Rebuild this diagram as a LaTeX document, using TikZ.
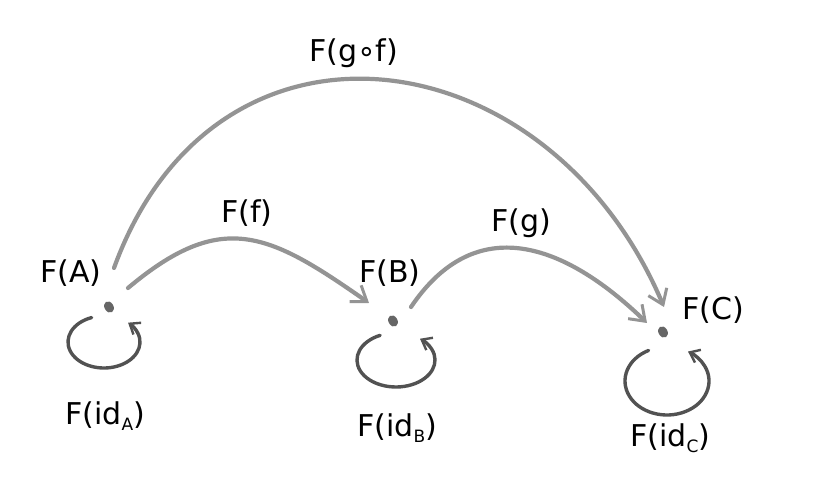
\documentclass[tikz,border=0pt]{standalone}
\usepackage{fontspec}
\setmainfont{DejaVu Sans}
\usetikzlibrary{arrows.meta,shapes.geometric}
\newcommand\sbs[1]{\raisebox{-6pt}{\fontsize{17}{17}\selectfont #1}}
\tikzset{
  bigarrow/.style={draw=black!42, line width=4.2pt, line cap=round,
    -{Straight Barb[length=14pt,width=20pt,line width=3pt]}},
  loopline/.style={draw=black!68, line width=3.4pt, line cap=round,
    -{Straight Barb[length=9pt,width=14pt,line width=2.4pt]}},
  dotmark/.style={ellipse, fill=black!60, inner sep=0pt, minimum width=9pt, minimum height=12pt, rotate=30},
  lbl/.style={inner sep=0pt, anchor=base west, font=\fontsize{30}{30}\selectfont}
}
\begin{document}
\begin{tikzpicture}[x=1pt,y=1pt]
\useasboundingbox (0,0) rectangle (828,482);
\fill[white] (0,0) rectangle (828,482);
% dots
\node[dotmark] (A) at (109,175) {};
\node[dotmark] (B) at (393,161) {};
\node[dotmark] (C) at (663,150) {};
% loop centres
\coordinate (cA) at (104,140);
\coordinate (cB) at (396,122);
\coordinate (cC) at (667,101);
\draw[loopline] ([shift={(110:36 and 26)}]cA) arc[start angle=110,end angle=408,x radius=36,y radius=26];
\draw[loopline] ([shift={(114:39 and 27)}]cB) arc[start angle=114,end angle=412,x radius=39,y radius=27];
\draw[loopline] ([shift={(116:42 and 34)}]cC) arc[start angle=116,end angle=420,x radius=42,y radius=34];
% arc ends
\coordinate (gfs) at (114,214);
\coordinate (gfe) at (664,175);
\coordinate (fs) at (128,194);
\coordinate (fe) at (369,179);
\coordinate (gs) at (411,175);
\coordinate (ge) at (647,159);
\draw[bigarrow] (gfs) to[out=70,in=113,looseness=1.38] (gfe);
\draw[bigarrow] (fs) to[out=40,in=145,looseness=1.3] (fe);
\draw[bigarrow] (gs) to[out=56,in=136,looseness=1.25] (ge);
% labels
\node[lbl] (lA) at (40,199) {F(A)};
\node[lbl] (lB) at (359,199) {F(B)};
\node[lbl] (lC) at (682,162) {F(C)};
\node[lbl] (liA) at (65,57) {F(id\sbs{A})};
\node[lbl] (liB) at (357,45) {F(id\sbs{B})};
\node[lbl] (liC) at (630,35) {F(id\sbs{C})};
\node[lbl] (lf) at (221,259) {F(f)};
\node[lbl] (lg) at (491,250) {F(g)};
\node[lbl] (lgf) at (309,420) {F(g∘f)};
\end{tikzpicture}
\end{document}
